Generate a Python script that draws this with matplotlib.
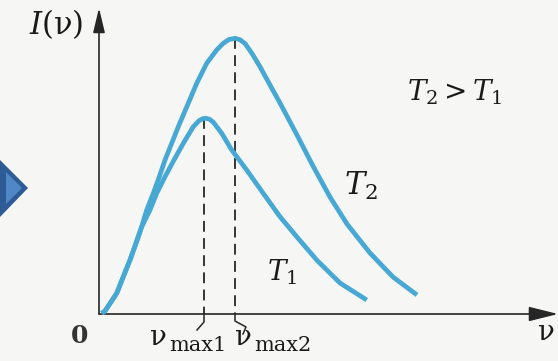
import numpy as np
import matplotlib.pyplot as plt
from matplotlib.patches import Polygon

# --- data (nu, I) in pixel-like units, origin at the axes corner ---
nu_T2 = [2.7, 6, 17.7, 24.3, 31, 37, 42.7, 47.7, 54.3, 60.3, 66, 72.7, 79.3,
         87.7, 97.7, 107.7, 117.7, 124, 130, 136, 141, 146, 152.7, 161, 171,
         181, 198, 214, 231, 248, 271, 294, 318]
I_T2 = [0.7, 3, 20.7, 37.3, 54, 70.7, 87.3, 104, 120.7, 137.3, 154, 170.7,
        187.3, 207, 230.7, 250.7, 264, 270.5, 274.5, 275.7, 274.3, 270.5,
        261, 247.3, 229, 211, 179, 148, 117, 90, 61, 37, 19]

nu_T1 = [2.7, 6, 17.7, 24.3, 31, 37, 42.7, 51, 57.7, 66, 75, 84.3, 94.3,
         100, 104, 107, 110.5, 114.3, 122.7, 132.7, 147.7, 164, 181, 197.7,
         217.7, 241, 267.7]
I_T1 = [0.7, 3, 20.7, 37.3, 54, 70.7, 87.3, 104, 120.7, 137.3, 154, 170.7,
        187.3, 193.3, 195.4, 195.7, 194.8, 191.8, 180.7, 164, 144, 121, 97.3,
        77.3, 54, 31, 14]

nu_max = [105, 136]          # positions of the two maxima
I_max = [195.7, 275.7]

curve_color = "#47a8d3"
axis_color = "#262626"
text_color = "#1a1a1a"

plt.rcParams["font.family"] = ["DejaVu Serif"]
plt.rcParams["mathtext.fontset"] = "dejavuserif"

fig = plt.figure(figsize=(5.58, 3.61), dpi=100)
fig.patch.set_facecolor("#f6f6f4")
ax = fig.add_axes([0, 0, 1, 1])
ax.set_facecolor("#f6f6f4")
ax.set_xlim(-99, 459)
ax.set_ylim(-47, 314)
ax.axis("off")

# axes with arrows
ax.annotate("", xy=(459, 0), xytext=(0, 0),
            arrowprops=dict(arrowstyle="-|>,head_length=1.8,head_width=0.45",
                            color=axis_color, lw=1.2, mutation_scale=10,
                            shrinkA=0, shrinkB=0))
ax.annotate("", xy=(0, 306), xytext=(0, 0),
            arrowprops=dict(arrowstyle="-|>,head_length=1.5,head_width=0.36",
                            color=axis_color, lw=1.2, mutation_scale=10,
                            shrinkA=0, shrinkB=0))

# dashed lines down from the maxima
for x_m, y_m in zip(nu_max, I_max):
    ax.plot([x_m, x_m], [y_m, 0], color=axis_color, lw=1.3,
            dashes=(6, 3.5), zorder=1)

# small brace ticks under the axis
ax.plot([nu_max[0], nu_max[0], nu_max[0] - 7], [0, -8, -16],
        color=axis_color, lw=1.1)
ax.plot([nu_max[1], nu_max[1], nu_max[1] + 11, nu_max[1] + 8],
        [0, -7, -13, -20], color=axis_color, lw=1.1)

# curves
for nu, I in [(nu_T2, I_T2), (nu_T1, I_T1)]:
    ax.plot(nu, I, color=curve_color, lw=3.4, solid_capstyle="butt",
            solid_joinstyle="round", zorder=3)

# labels
ax.text(-43, 290, r"$I$(ν)", fontsize=22, ha="center", va="center",
        color=text_color)
ax.text(356, 222, r"$T_2>T_1$", fontsize=20, ha="center", va="center",
        color=text_color)
ax.text(262, 128, r"$T_2$", fontsize=22, ha="center", va="center",
        color=text_color)
ax.text(183, 42, r"$T_1$", fontsize=20, ha="center", va="center",
        color=text_color)
ax.text(-19, -22, "0", fontsize=18, ha="center", va="center",
        color="#333333", fontweight="bold")

for x0, sub in [(51, "max1"), (136, "max2")]:
    ax.text(x0, -31, "ν", fontsize=20, ha="left", va="baseline",
            color=text_color)
    ax.text(x0 + 19, -37, sub, fontsize=15, ha="left", va="baseline",
            color=text_color)

ax.text(447, -18, "ν", fontsize=20, ha="center", va="center",
        color=text_color)

# slide navigation marker on the left edge
W, H = 558, 361


def px(pts):
    return [(x / W, 1 - y / H) for x, y in pts]


fig.patches.append(Polygon(px([(0, 160), (28, 188), (0, 217)]),
                           closed=True, transform=fig.transFigure,
                           facecolor="#2e5b95", edgecolor="none"))
fig.patches.append(Polygon(px([(6, 172), (22, 188), (6, 204)]),
                           closed=True, transform=fig.transFigure,
                           facecolor="#4f87c7", edgecolor="none"))

fig.savefig("out.png", dpi=100, facecolor=fig.get_facecolor())
